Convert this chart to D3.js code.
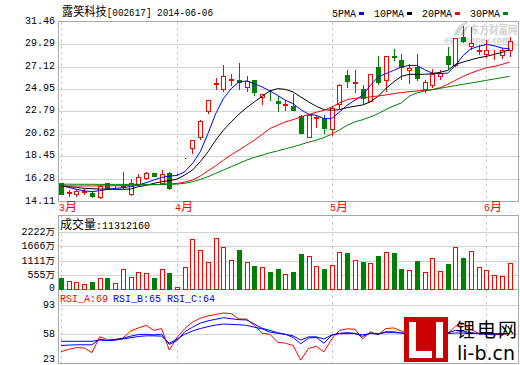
<!DOCTYPE html>
<html>
<head>
<meta charset="utf-8">
<script src="https://cdn.jsdelivr.net/npm/d3@7"></script>
<style>
  body { margin: 0; background: #fff; }
  svg { display: block; }
</style>
</head>
<body>
<script>
// 露笑科技 日K
var title = "露笑科技[002617] 2014-06-06";
var volTitle = "成交量:11312160";
var rsiNames = ["RSI_A:69", "RSI_B:65", "RSI_C:64"];
var maNames = ["5PMA", "10PMA", "20PMA", "30PMA"];

var monthLabels = ["3月", "4月", "5月", "6月"];
var monthStart = [0, 15, 35, 55];

var priceTicks = [31.46, 29.29, 27.12, 24.95, 22.79, 20.62, 18.45, 16.28, 14.11];
var volTicks = [2222, 1666, 1111, 555, 0];
var rsiTicks = [93, 58, 23];

var open = [15.85, 14.95, 14.83, 15.05, 14.96, 14.57, 15.85, 15.5, 15.5, 14.83,
  15.79, 16.33, 16.81, 15.92, 16.88, 16.75, 18.26, 19.22, 20.34, 22.84,
  25.4, 24.92, 25.82, 25.79, 25.15, 25.79, 24.19, 24.12, 23.8, 23.42,
  23.29, 22.36, 20.34, 22.2, 22.17, 21.14, 23.48, 26.27, 25.52, 24.92,
  23.8, 27.07, 25.85, 28.15, 27.71, 26.82, 27.07, 24.92, 25.31, 26.2,
  28.1, 27.23, 29.95, 29.06, 28.62, 28.35, 28.5, 28.19, 28.74];
var high = [15.9, 15.21, 15.3, 15.34, 15.0, 15.7, 15.9, 15.6, 16.98, 16.24,
  16.72, 16.98, 16.85, 17.13, 16.98, 16.75, 18.26, 20.02, 22.01, 23.93,
  26.04, 27.23, 26.43, 27.45, 26.17, 25.85, 24.51, 24.89, 24.25, 23.87,
  24.44, 22.49, 22.59, 22.42, 22.42, 23.29, 25.4, 26.75, 26.75, 25.31,
  26.43, 28.1, 28.1, 28.83, 28.35, 27.33, 28.35, 25.85, 26.91, 26.82,
  28.99, 29.9, 30.98, 30.92, 29.15, 29.7, 28.74, 28.93, 29.95];
var low = [14.8, 14.64, 14.66, 14.83, 14.55, 14.45, 15.4, 15.45, 15.45, 14.76,
  15.7, 16.24, 16.55, 15.86, 15.28, 16.75, 18.26, 18.8, 20.09, 22.65,
  24.99, 24.76, 25.31, 24.99, 24.76, 24.35, 23.55, 23.87, 22.84, 22.9,
  22.9, 20.7, 20.28, 21.3, 20.73, 20.5, 23.16, 25.15, 24.67, 23.61,
  23.78, 25.47, 24.76, 27.71, 25.95, 25.53, 25.79, 24.67, 25.15, 25.95,
  26.91, 27.2, 29.47, 28.83, 28.35, 28.03, 27.87, 27.97, 28.1];
var close = [14.85, 15.0, 15.15, 15.1, 14.64, 15.6, 15.44, 15.55, 15.6, 15.92,
  16.43, 16.88, 16.59, 16.72, 15.38, 16.75, 18.26, 20.02, 21.88, 23.93,
  25.5, 26.2, 25.88, 25.6, 25.73, 24.67, 24.44, 24.06, 23.61, 23.47,
  22.97, 20.73, 22.49, 22.27, 21.24, 23.16, 25.37, 25.73, 25.6, 24.12,
  26.43, 25.63, 28.1, 28.05, 27.07, 27.01, 26.04, 25.63, 26.37, 26.53,
  27.39, 29.89, 29.57, 29.41, 28.7, 28.74, 28.56, 28.67, 29.57];

var ma5 = [15.63, 15.47, 15.28, 15.15, 15.06, 15.15, 15.28, 15.38, 15.44, 15.54,
  15.7, 15.92, 16.18, 16.43, 16.56, 16.62, 16.98, 17.78, 18.9, 20.66,
  22.58, 24.03, 24.99, 25.63, 25.73, 25.47, 25.15, 24.76, 24.35, 23.87,
  23.55, 22.97, 22.52, 22.42, 22.1, 22.1, 22.74, 23.39, 23.87, 24.35,
  25.31, 26.11, 26.43, 26.75, 27.07, 27.23, 27.23, 26.82, 26.49, 26.43,
  26.49, 27.23, 28.19, 28.83, 29.06, 29.25, 29.12, 28.9, 28.83];
var ma10 = [15.63, 15.54, 15.47, 15.38, 15.34, 15.31, 15.31, 15.28, 15.28, 15.31,
  15.54, 15.66, 15.86, 16.02, 16.11, 16.27, 16.66, 17.14, 17.94, 18.9,
  20.02, 20.98, 21.78, 22.52, 23.16, 23.71, 24.25, 24.76, 24.99, 24.92,
  24.67, 24.19, 23.71, 23.29, 22.97, 22.9, 22.97, 23.16, 23.29, 23.42,
  23.71, 24.25, 24.99, 25.63, 26.17, 26.37, 26.37, 26.37, 26.43, 26.56,
  26.75, 27.33, 27.55, 27.77, 27.97, 28.1, 28.29, 28.48, 28.74];
var ma20 = [15.62, 15.62, 15.61, 15.61, 15.61, 15.62, 15.62, 15.63, 15.64, 15.66,
  15.68, 15.7, 15.73, 15.76, 15.8, 15.86, 15.98, 16.18, 16.56, 17.07,
  17.55, 18.1, 18.61, 19.06, 19.54, 20.02, 20.57, 21.14, 21.46, 21.78,
  22.0, 22.26, 22.49, 22.71, 22.9, 23.22, 23.61, 23.93, 24.06, 24.12,
  24.19, 24.28, 24.38, 24.51, 24.6, 24.7, 24.76, 24.83, 24.89, 25.08,
  25.41, 25.79, 26.17, 26.49, 26.75, 27.0, 27.13, 27.32, 27.55];
var ma30 = [15.78, 15.78, 15.77, 15.77, 15.77, 15.76, 15.76, 15.76, 15.76, 15.76,
  15.76, 15.76, 15.75, 15.75, 15.75, 15.79, 15.86, 16.02, 16.24, 16.5,
  16.82, 17.14, 17.46, 17.78, 18.1, 18.36, 18.58, 18.8, 18.99, 19.19,
  19.38, 19.6, 19.83, 20.02, 20.28, 20.6, 21.0, 21.46, 21.78, 22.0,
  22.26, 22.58, 22.97, 23.32, 23.61, 24.25, 24.57, 24.76, 24.89, 25.02,
  25.15, 25.28, 25.41, 25.53, 25.66, 25.79, 25.92, 26.04, 26.17];

// 成交量, 单位: 万股
var volume = [452, 323, 284, 207, 284, 439, 439, 245, 775, 465,
  659, 633, 439, 775, 633, 90, 853, 1938, 1512, 1059,
  1977, 1628, 1124, 1525, 1059, 904, 853, 672, 788, 581,
  672, 1370, 1279, 891, 788, 930, 1434, 1408, 1124, 1059,
  1008, 1292, 1434, 1408, 788, 736, 1098, 659, 1202, 698,
  982, 1628, 1214, 1473, 853, 736, 543, 504, 1008];

var rsiA = [37, 40, 42, 41.6, 36, 55, 51.5, 52, 53.4, 61.8,
  65.6, 68.6, 62.6, 64.8, 39, 54, 64.8, 72.4, 77, 80,
  81.6, 83.5, 82.7, 76.2, 76.2, 68.6, 59.2, 58, 48.5, 47.3,
  44.6, 27, 41, 43.5, 37, 52.3, 62.6, 64.5, 64, 52.3,
  61, 57.2, 64.8, 65.6, 61.8, 58, 50.4, 54.9, 57.2, 58,
  58.8, 67.5, 70.2, 63.7, 59.2, 58, 57.2, 58, 58.8];
var rsiB = [44.6, 45, 45.4, 45.4, 45.4, 52, 50.4, 51.1, 53.1, 55.7,
  57.6, 58, 57.2, 58, 45.8, 50.4, 61, 66.4, 71.3, 74,
  75.9, 77.8, 76.6, 75.5, 75.1, 70.2, 65.2, 62.6, 59.9, 58,
  54.2, 46.6, 53.4, 54.2, 47.3, 56.8, 59.1, 59.9, 59.1, 55.3,
  59.5, 58, 61, 61, 59.5, 58, 56.8, 57.6, 58, 58,
  59.5, 62.6, 61.8, 59.9, 58.8, 58, 58, 58.4, 58.8];
var rsiC = [49.6, 49.6, 49.6, 49.6, 49.6, 51.1, 50.4, 51.1, 52.3, 53.8,
  55.3, 56.1, 56.1, 55.7, 47.3, 52.3, 58, 61.8, 64.8, 67.1,
  69, 70.2, 69.8, 69.4, 68.6, 66.4, 64.5, 60.6, 59.1, 58,
  56.1, 51.1, 54.9, 54.9, 52.3, 57.2, 58.8, 58.8, 58.8, 57.2,
  58.8, 58.8, 59.9, 59.9, 59.5, 58.8, 58, 58, 58, 58,
  58.8, 59.5, 59.5, 59.1, 58.8, 58.8, 58.8, 58.8, 58.8];

var RED = "#ff0000", GREEN = "#008000", BLUE = "#0000ff";
var maColors = [BLUE, "#000000", RED, GREEN];

var W = 520, H = 365;
var L = 58.5, R = 518.5;
var mainTop = 21.5, mainBot = 201.5;
var volTop = 215.5, volBot = 289.5;
var rsiTop = 289.5, rsiBot = 363.5;

var svg = d3.select("body").append("svg")
    .attr("width", W)
    .attr("height", H);

var x = d3.scaleLinear().domain([0, open.length - 1]).range([61, 509.6]);
var y = d3.scaleLinear().domain([14.11, 31.46]).range([mainBot, mainTop]);
var yv = d3.scaleLinear().domain([0, 2222]).range([volBot, 232]);
var yr = d3.scaleLinear().domain([23, 93]).range([rsiBot, 305]);

function px(v) { return Math.round(v) + 0.5; }

// chinese runs a bit bigger than the ascii ones, like the bitmap font
function mixText(sel, str, cjkSize) {
    var parts = str.match(/[\u4e00-\u9fff]+|[^\u4e00-\u9fff]+/g);
    parts.forEach(function (p) {
        var cjk = /[\u4e00-\u9fff]/.test(p);
        sel.append("tspan")
            .attr("font-family", cjk ? "Noto Sans CJK SC" : "Liberation Mono")
            .attr("font-size", cjk ? (cjkSize || 12) : 10)
            .text(p);
    });
    return sel;
}

function label(xp, yp, str, anchor, color, cjkSize) {
    var t = svg.append("text")
        .attr("x", xp)
        .attr("y", yp)
        .attr("text-anchor", anchor || "start")
        .attr("dominant-baseline", "middle")
        .attr("fill", color || "#000");
    return mixText(t, str, cjkSize);
}

// clip for the price area
svg.append("clipPath").attr("id", "clipMain")
    .append("rect").attr("x", L).attr("y", mainTop).attr("width", R - L).attr("height", mainBot - mainTop);
svg.append("clipPath").attr("id", "clipRsi")
    .append("rect").attr("x", L).attr("y", rsiTop).attr("width", R - L).attr("height", rsiBot - rsiTop);

// gridlines
svg.append("g").selectAll("line").data(priceTicks.slice(1, -1)).join("line")
    .attr("x1", L).attr("x2", R)
    .attr("y1", function (d) { return px(y(d)); })
    .attr("y2", function (d) { return px(y(d)); })
    .attr("stroke", "#d3d3d3");
svg.append("g").selectAll("line").data(volTicks.slice(0, -1)).join("line")
    .attr("x1", L).attr("x2", R)
    .attr("y1", function (d) { return px(yv(d)); })
    .attr("y2", function (d) { return px(yv(d)); })
    .attr("stroke", "#d3d3d3");
svg.append("g").selectAll("line").data(rsiTicks.slice(0, -1)).join("line")
    .attr("x1", L).attr("x2", R)
    .attr("y1", function (d) { return px(yr(d)); })
    .attr("y2", function (d) { return px(yr(d)); })
    .attr("stroke", "#d3d3d3");

// month separators (dashed)
[[mainTop, mainBot], [volTop, volBot], [rsiTop, rsiBot]].forEach(function (p) {
    svg.append("g").selectAll("line").data(monthStart).join("line")
        .attr("x1", function (d) { return px(x(d)); })
        .attr("x2", function (d) { return px(x(d)); })
        .attr("y1", p[0]).attr("y2", p[1])
        .attr("stroke", "#c8c8c8")
        .attr("stroke-dasharray", "3,3");
});

// frames
[[mainTop, mainBot], [volTop, volBot], [rsiTop, rsiBot]].forEach(function (p) {
    svg.append("rect")
        .attr("x", L).attr("y", p[0])
        .attr("width", R - L).attr("height", p[1] - p[0])
        .attr("fill", "none")
        .attr("stroke", "#a8a8a8");
});

// watermark
var wm = svg.append("g").attr("fill", "#d4d4d4");
wm.append("path").attr("d", "M454,35 C456,27 462,22 470,21 C464,25 460,30 459,35 Z");
wm.append("path").attr("d", "M460,35 C462,29 466,26 470,25 C467,28 465,31 465,35 Z");
wm.append("text")
    .attr("transform", "translate(470,34) scale(1,1.25)")
    .attr("font-family", "Noto Sans CJK SC").attr("font-size", 9.5).attr("font-weight", "bold")
    .text("东方财富网");
wm.append("text").attr("x", 444).attr("y", 43)
    .attr("font-family", "DejaVu Sans").attr("font-size", 8).attr("font-weight", "bold")
    .attr("textLength", 66).attr("lengthAdjust", "spacingAndGlyphs")
    .text("eastmoney.com");

// candles
var cg = svg.append("g").attr("clip-path", "url(#clipMain)");
var idx = d3.range(open.length);
function candleColor(i) {
    if (close[i] > open[i]) return RED;
    if (close[i] < open[i]) return GREEN;
    return "#000";
}
cg.selectAll("line.wick").data(idx).join("line")
    .attr("class", "wick")
    .attr("x1", function (i) { return px(x(i)); })
    .attr("x2", function (i) { return px(x(i)); })
    .attr("y1", function (i) { return Math.round(y(high[i])); })
    .attr("y2", function (i) { return Math.round(y(low[i])) + 1; })
    .attr("stroke", candleColor);
cg.selectAll("rect.body").data(idx).join("rect")
    .attr("class", "body")
    .attr("x", function (i) { return Math.round(x(i)) - 1.5; })
    .attr("width", 4)
    .attr("y", function (i) { return px(y(Math.max(open[i], close[i]))); })
    .attr("height", function (i) {
        return Math.max(0, Math.round(y(Math.min(open[i], close[i]))) - Math.round(y(Math.max(open[i], close[i]))));
    })
    .attr("fill", function (i) { return close[i] < open[i] ? GREEN : "#fff"; })
    .attr("stroke", candleColor);

// moving averages
[ma5, ma10, ma20, ma30].forEach(function (s, k) {
    cg.append("path")
        .datum(s)
        .attr("fill", "none")
        .attr("stroke", maColors[k])
        .attr("stroke-width", 1)
        .attr("d", d3.line()
            .x(function (d, i) { return x(i); })
            .y(function (d) { return y(d); }));
});

// volume bars
svg.append("g").selectAll("rect").data(idx).join("rect")
    .attr("x", function (i) { return Math.round(x(i)) - 1.5; })
    .attr("width", 4)
    .attr("y", function (i) { return px(yv(volume[i])); })
    .attr("height", function (i) { return Math.max(1, volBot - px(yv(volume[i]))); })
    .attr("fill", function (i) { return close[i] < open[i] ? GREEN : "#fff"; })
    .attr("stroke", function (i) { return close[i] < open[i] ? GREEN : RED; });

// RSI
var rg = svg.append("g").attr("clip-path", "url(#clipRsi)");
[[rsiA, RED], [rsiB, BLUE], [rsiC, BLUE]].forEach(function (s) {
    rg.append("path")
        .datum(s[0])
        .attr("fill", "none")
        .attr("stroke", s[1])
        .attr("stroke-width", 1)
        .attr("d", d3.line()
            .x(function (d, i) { return x(i); })
            .y(function (d) { return yr(d); }));
});

// axis labels
priceTicks.forEach(function (t) {
    label(55, y(t) - 1, t.toFixed(2), "end");
});
volTicks.forEach(function (t) {
    if (t === 0) label(55, 288, "0", "end");
    else label(55, yv(t), t + "万", "end", null, 9.5);
});
rsiTicks.forEach(function (t) {
    label(55, t === 23 ? 359 : yr(t), String(t), "end");
});
monthStart.forEach(function (m, k) {
    label(Math.round(x(m)) - 2, 208, monthLabels[k], "start", RED);
});

// titles and legend
label(62, 13, title)
    .attr("textLength", 151)
    .attr("lengthAdjust", "spacingAndGlyphs");
label(60, 226, volTitle);
label(60, 299, rsiNames[0], "start", RED);
label(113, 299, rsiNames[1], "start", BLUE);
label(167, 299, rsiNames[2], "start", BLUE);

var legX = [332, 374, 422, 470];
var swX = [359, 407, 455, 503];
maNames.forEach(function (n, k) {
    label(legX[k], 14, n);
    svg.append("rect")
        .attr("x", swX[k]).attr("y", 12)
        .attr("width", 5).attr("height", 3)
        .attr("fill", maColors[k]);
});

// site logo, bottom right
var lg = svg.append("g");
lg.append("rect").attr("x", 404).attr("y", 317).attr("width", 44).attr("height", 45).attr("fill", "#cc0000");
lg.append("path").attr("fill", "#fff")
    .attr("d", "M409,322 H416 V351 H432 V358 H409 Z");
lg.append("rect").attr("x", 436).attr("y", 322).attr("width", 7).attr("height", 36).attr("fill", "#fff");
lg.append("text").attr("x", 456).attr("y", 337)
    .attr("font-family", "Noto Sans CJK SC").attr("font-size", 19)
    .attr("letter-spacing", 2)
    .text("锂电网");
lg.append("text").attr("x", 457).attr("y", 360)
    .attr("font-family", "DejaVu Sans").attr("font-size", 19)
    .text("li-b.cn");
</script>
</body>
</html>
